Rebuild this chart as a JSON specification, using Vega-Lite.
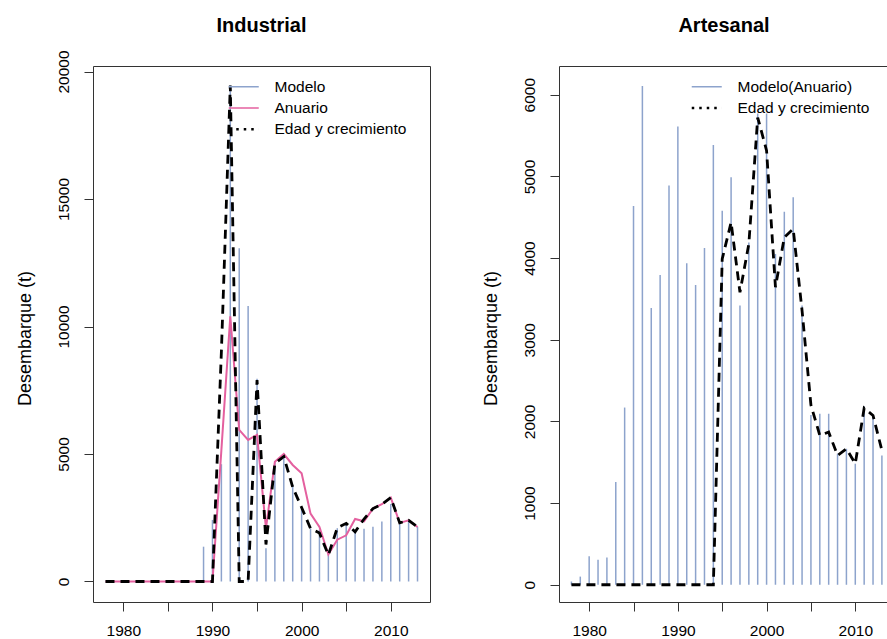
{
  "$schema": "https://vega.github.io/schema/vega-lite/v6.json",
  "background": "white",
  "padding": {"left": 15, "top": 15, "right": 0, "bottom": 0},
  "spacing": 50,
  "config": {
    "font": "Liberation Sans",
    "view": {"stroke": "#333333", "strokeWidth": 1},
    "axis": {"domain": false, "grid": false, "tickColor": "#333333", "tickSize": 9, "tickWidth": 1, "labelFontSize": 15.5, "labelColor": "#000000", "titleFontSize": 18, "titleFontWeight": "normal", "titleColor": "#000000", "labelFlush": false, "labelOverlap": false},
    "title": {"fontSize": 20, "fontWeight": "bold", "anchor": "middle", "color": "#000000", "baseline": "alphabetic"},
    "legend": {"orient": "none", "title": null, "labelFontSize": 15.5, "labelColor": "#000000", "symbolType": "M-1.58,0H1.58", "symbolSize": 361, "symbolStrokeWidth": 1.5, "labelOffset": 23, "rowPadding": 4.3, "padding": 0, "labelBaseline": "middle"}
  },
  "resolve": {"scale": {"color": "independent"}},
  "datasets": {
    "industrial": [
      {"year": 1989, "series": "Modelo", "value": 1365},
      {"year": 1990, "series": "Modelo", "value": 2415},
      {"year": 1991, "series": "Modelo", "value": 4600},
      {"year": 1992, "series": "Modelo", "value": 19450},
      {"year": 1993, "series": "Modelo", "value": 13070},
      {"year": 1994, "series": "Modelo", "value": 10800},
      {"year": 1995, "series": "Modelo", "value": 7950},
      {"year": 1996, "series": "Modelo", "value": 1300},
      {"year": 1997, "series": "Modelo", "value": 4700},
      {"year": 1998, "series": "Modelo", "value": 4900},
      {"year": 1999, "series": "Modelo", "value": 3780},
      {"year": 2000, "series": "Modelo", "value": 2926},
      {"year": 2001, "series": "Modelo", "value": 2073},
      {"year": 2002, "series": "Modelo", "value": 2034},
      {"year": 2003, "series": "Modelo", "value": 1220},
      {"year": 2004, "series": "Modelo", "value": 2090},
      {"year": 2005, "series": "Modelo", "value": 2220},
      {"year": 2006, "series": "Modelo", "value": 1980},
      {"year": 2007, "series": "Modelo", "value": 2070},
      {"year": 2008, "series": "Modelo", "value": 2150},
      {"year": 2009, "series": "Modelo", "value": 2350},
      {"year": 2010, "series": "Modelo", "value": 3040},
      {"year": 2011, "series": "Modelo", "value": 2300},
      {"year": 2012, "series": "Modelo", "value": 2380},
      {"year": 2013, "series": "Modelo", "value": 2150},
      {"year": 1978, "series": "Anuario", "value": 0},
      {"year": 1979, "series": "Anuario", "value": 0},
      {"year": 1980, "series": "Anuario", "value": 0},
      {"year": 1981, "series": "Anuario", "value": 0},
      {"year": 1982, "series": "Anuario", "value": 0},
      {"year": 1983, "series": "Anuario", "value": 0},
      {"year": 1984, "series": "Anuario", "value": 0},
      {"year": 1985, "series": "Anuario", "value": 0},
      {"year": 1986, "series": "Anuario", "value": 0},
      {"year": 1987, "series": "Anuario", "value": 0},
      {"year": 1988, "series": "Anuario", "value": 0},
      {"year": 1989, "series": "Anuario", "value": 0},
      {"year": 1990, "series": "Anuario", "value": 0},
      {"year": 1991, "series": "Anuario", "value": 5150},
      {"year": 1992, "series": "Anuario", "value": 10400},
      {"year": 1993, "series": "Anuario", "value": 5945},
      {"year": 1994, "series": "Anuario", "value": 5550},
      {"year": 1995, "series": "Anuario", "value": 5750},
      {"year": 1996, "series": "Anuario", "value": 2080},
      {"year": 1997, "series": "Anuario", "value": 4700},
      {"year": 1998, "series": "Anuario", "value": 5000},
      {"year": 1999, "series": "Anuario", "value": 4570},
      {"year": 2000, "series": "Anuario", "value": 4240},
      {"year": 2001, "series": "Anuario", "value": 2660},
      {"year": 2002, "series": "Anuario", "value": 2140},
      {"year": 2003, "series": "Anuario", "value": 1060},
      {"year": 2004, "series": "Anuario", "value": 1640},
      {"year": 2005, "series": "Anuario", "value": 1810},
      {"year": 2006, "series": "Anuario", "value": 2450},
      {"year": 2007, "series": "Anuario", "value": 2360},
      {"year": 2008, "series": "Anuario", "value": 2860},
      {"year": 2009, "series": "Anuario", "value": 3030},
      {"year": 2010, "series": "Anuario", "value": 3290},
      {"year": 2011, "series": "Anuario", "value": 2300},
      {"year": 2012, "series": "Anuario", "value": 2400},
      {"year": 2013, "series": "Anuario", "value": 2140},
      {"year": 1978, "series": "Edad y crecimiento", "value": 0},
      {"year": 1979, "series": "Edad y crecimiento", "value": 0},
      {"year": 1980, "series": "Edad y crecimiento", "value": 0},
      {"year": 1981, "series": "Edad y crecimiento", "value": 0},
      {"year": 1982, "series": "Edad y crecimiento", "value": 0},
      {"year": 1983, "series": "Edad y crecimiento", "value": 0},
      {"year": 1984, "series": "Edad y crecimiento", "value": 0},
      {"year": 1985, "series": "Edad y crecimiento", "value": 0},
      {"year": 1986, "series": "Edad y crecimiento", "value": 0},
      {"year": 1987, "series": "Edad y crecimiento", "value": 0},
      {"year": 1988, "series": "Edad y crecimiento", "value": 0},
      {"year": 1989, "series": "Edad y crecimiento", "value": 0},
      {"year": 1990, "series": "Edad y crecimiento", "value": 0},
      {"year": 1991, "series": "Edad y crecimiento", "value": 9000},
      {"year": 1992, "series": "Edad y crecimiento", "value": 19450},
      {"year": 1993, "series": "Edad y crecimiento", "value": 0},
      {"year": 1994, "series": "Edad y crecimiento", "value": 0},
      {"year": 1995, "series": "Edad y crecimiento", "value": 7900},
      {"year": 1996, "series": "Edad y crecimiento", "value": 1450},
      {"year": 1997, "series": "Edad y crecimiento", "value": 4630},
      {"year": 1998, "series": "Edad y crecimiento", "value": 4900},
      {"year": 1999, "series": "Edad y crecimiento", "value": 3700},
      {"year": 2000, "series": "Edad y crecimiento", "value": 2900},
      {"year": 2001, "series": "Edad y crecimiento", "value": 2080},
      {"year": 2002, "series": "Edad y crecimiento", "value": 1900},
      {"year": 2003, "series": "Edad y crecimiento", "value": 1040},
      {"year": 2004, "series": "Edad y crecimiento", "value": 2100},
      {"year": 2005, "series": "Edad y crecimiento", "value": 2280},
      {"year": 2006, "series": "Edad y crecimiento", "value": 1950},
      {"year": 2007, "series": "Edad y crecimiento", "value": 2450},
      {"year": 2008, "series": "Edad y crecimiento", "value": 2860},
      {"year": 2009, "series": "Edad y crecimiento", "value": 3030},
      {"year": 2010, "series": "Edad y crecimiento", "value": 3290},
      {"year": 2011, "series": "Edad y crecimiento", "value": 2300},
      {"year": 2012, "series": "Edad y crecimiento", "value": 2400},
      {"year": 2013, "series": "Edad y crecimiento", "value": 2140}
    ],
    "artesanal": [
      {"year": 1978, "series": "Modelo(Anuario)", "value": 40},
      {"year": 1979, "series": "Modelo(Anuario)", "value": 100},
      {"year": 1980, "series": "Modelo(Anuario)", "value": 350},
      {"year": 1981, "series": "Modelo(Anuario)", "value": 305},
      {"year": 1982, "series": "Modelo(Anuario)", "value": 335},
      {"year": 1983, "series": "Modelo(Anuario)", "value": 1257},
      {"year": 1984, "series": "Modelo(Anuario)", "value": 2170},
      {"year": 1985, "series": "Modelo(Anuario)", "value": 4639},
      {"year": 1986, "series": "Modelo(Anuario)", "value": 6108},
      {"year": 1987, "series": "Modelo(Anuario)", "value": 3390},
      {"year": 1988, "series": "Modelo(Anuario)", "value": 3794},
      {"year": 1989, "series": "Modelo(Anuario)", "value": 4890},
      {"year": 1990, "series": "Modelo(Anuario)", "value": 5610},
      {"year": 1991, "series": "Modelo(Anuario)", "value": 3937},
      {"year": 1992, "series": "Modelo(Anuario)", "value": 3672},
      {"year": 1993, "series": "Modelo(Anuario)", "value": 4122},
      {"year": 1994, "series": "Modelo(Anuario)", "value": 5386},
      {"year": 1995, "series": "Modelo(Anuario)", "value": 4581},
      {"year": 1996, "series": "Modelo(Anuario)", "value": 4989},
      {"year": 1997, "series": "Modelo(Anuario)", "value": 3419},
      {"year": 1998, "series": "Modelo(Anuario)", "value": 4190},
      {"year": 1999, "series": "Modelo(Anuario)", "value": 5770},
      {"year": 2000, "series": "Modelo(Anuario)", "value": 5770},
      {"year": 2001, "series": "Modelo(Anuario)", "value": 4050},
      {"year": 2002, "series": "Modelo(Anuario)", "value": 4567},
      {"year": 2003, "series": "Modelo(Anuario)", "value": 4744},
      {"year": 2004, "series": "Modelo(Anuario)", "value": 3419},
      {"year": 2005, "series": "Modelo(Anuario)", "value": 2080},
      {"year": 2006, "series": "Modelo(Anuario)", "value": 2094},
      {"year": 2007, "series": "Modelo(Anuario)", "value": 2094},
      {"year": 2008, "series": "Modelo(Anuario)", "value": 1604},
      {"year": 2009, "series": "Modelo(Anuario)", "value": 1665},
      {"year": 2010, "series": "Modelo(Anuario)", "value": 1482},
      {"year": 2011, "series": "Modelo(Anuario)", "value": 2184},
      {"year": 2012, "series": "Modelo(Anuario)", "value": 2073},
      {"year": 2013, "series": "Modelo(Anuario)", "value": 1584},
      {"year": 1978, "series": "Edad y crecimiento", "value": 0},
      {"year": 1979, "series": "Edad y crecimiento", "value": 0},
      {"year": 1980, "series": "Edad y crecimiento", "value": 0},
      {"year": 1981, "series": "Edad y crecimiento", "value": 0},
      {"year": 1982, "series": "Edad y crecimiento", "value": 0},
      {"year": 1983, "series": "Edad y crecimiento", "value": 0},
      {"year": 1984, "series": "Edad y crecimiento", "value": 0},
      {"year": 1985, "series": "Edad y crecimiento", "value": 0},
      {"year": 1986, "series": "Edad y crecimiento", "value": 0},
      {"year": 1987, "series": "Edad y crecimiento", "value": 0},
      {"year": 1988, "series": "Edad y crecimiento", "value": 0},
      {"year": 1989, "series": "Edad y crecimiento", "value": 0},
      {"year": 1990, "series": "Edad y crecimiento", "value": 0},
      {"year": 1991, "series": "Edad y crecimiento", "value": 0},
      {"year": 1992, "series": "Edad y crecimiento", "value": 0},
      {"year": 1993, "series": "Edad y crecimiento", "value": 0},
      {"year": 1994, "series": "Edad y crecimiento", "value": 0},
      {"year": 1995, "series": "Edad y crecimiento", "value": 3990},
      {"year": 1996, "series": "Edad y crecimiento", "value": 4438},
      {"year": 1997, "series": "Edad y crecimiento", "value": 3581},
      {"year": 1998, "series": "Edad y crecimiento", "value": 4174},
      {"year": 1999, "series": "Edad y crecimiento", "value": 5720},
      {"year": 2000, "series": "Edad y crecimiento", "value": 5316},
      {"year": 2001, "series": "Edad y crecimiento", "value": 3643},
      {"year": 2002, "series": "Edad y crecimiento", "value": 4255},
      {"year": 2003, "series": "Edad y crecimiento", "value": 4357},
      {"year": 2004, "series": "Edad y crecimiento", "value": 3357},
      {"year": 2005, "series": "Edad y crecimiento", "value": 2200},
      {"year": 2006, "series": "Edad y crecimiento", "value": 1829},
      {"year": 2007, "series": "Edad y crecimiento", "value": 1869},
      {"year": 2008, "series": "Edad y crecimiento", "value": 1584},
      {"year": 2009, "series": "Edad y crecimiento", "value": 1665},
      {"year": 2010, "series": "Edad y crecimiento", "value": 1482},
      {"year": 2011, "series": "Edad y crecimiento", "value": 2163},
      {"year": 2012, "series": "Edad y crecimiento", "value": 2073},
      {"year": 2013, "series": "Edad y crecimiento", "value": 1645}
    ]
  },
  "hconcat": [
    {
      "width": 337,
      "height": 536,
      "title": {"text": "Industrial", "offset": 14},
      "data": {"name": "industrial"},
      "encoding": {
        "x": {"field": "year", "type": "quantitative", "scale": {"domain": [1976.6, 2014.4], "nice": false, "zero": false},
          "axis": {"values": [1980, 1985, 1990, 1995, 2000, 2005, 2010], "format": "d", "labelExpr": "datum.value % 10 === 0 ? datum.label : ''", "title": null, "labelBaseline": "top", "labelPadding": 12}},
        "y": {"field": "value", "type": "quantitative", "scale": {"domain": [-804, 20216], "nice": false, "zero": false},
          "axis": {"values": [0, 5000, 10000, 15000, 20000], "format": "d", "labelAngle": -90, "labelAlign": "center", "labelBaseline": "alphabetic", "labelPadding": 16, "title": "Desembarque (t)", "titleAngle": -90, "titleBaseline": "alphabetic", "titleAlign": "center", "titleX": -63, "titleY": 272}},
        "color": {"field": "series", "type": "nominal",
          "scale": {"domain": ["Modelo", "Anuario", "Edad y crecimiento"], "range": ["#8DA3CC", "#E4609F", "#000000"]},
          "legend": {"legendX": 143, "legendY": 13,
            "encode": {"symbols": {"update": {"strokeDash": {"signal": "datum.value === 'Edad y crecimiento' ? [2.5, 5] : [1, 0]"}, "strokeWidth": {"signal": "datum.value === 'Edad y crecimiento' ? 2.5 : 1.5"}}}}}}
      },
      "layer": [
        {"transform": [{"filter": "datum.series === 'Modelo'"}], "mark": {"type": "rule", "strokeWidth": 1.5}, "encoding": {"y2": {"datum": 0}}},
        {"transform": [{"filter": "datum.series === 'Anuario'"}], "mark": {"type": "line", "strokeWidth": 2}},
        {"transform": [{"filter": "datum.series === 'Edad y crecimiento'"}], "mark": {"type": "line", "strokeWidth": 2.8, "strokeDash": [9, 6]}}
      ]
    },
    {
      "width": 330,
      "height": 536,
      "title": {"text": "Artesanal", "offset": 30},
      "data": {"name": "artesanal"},
      "encoding": {
        "x": {"field": "year", "type": "quantitative", "scale": {"domain": [1976.6, 2013.8], "nice": false, "zero": false},
          "axis": {"values": [1980, 1985, 1990, 1995, 2000, 2005, 2010], "format": "d", "labelExpr": "datum.value % 10 === 0 ? datum.label : ''", "title": null, "labelBaseline": "top", "labelPadding": 12}},
        "y": {"field": "value", "type": "quantitative", "scale": {"domain": [-211, 6352], "nice": false, "zero": false},
          "axis": {"values": [0, 1000, 2000, 3000, 4000, 5000, 6000], "format": "d", "labelAngle": -90, "labelAlign": "center", "labelBaseline": "alphabetic", "labelPadding": 16, "title": "Desembarque (t)", "titleAngle": -90, "titleBaseline": "alphabetic", "titleAlign": "center", "titleX": -63, "titleY": 272}},
        "color": {"field": "series", "type": "nominal",
          "scale": {"domain": ["Modelo(Anuario)", "Edad y crecimiento"], "range": ["#8DA3CC", "#000000"]},
          "legend": {"legendX": 140, "legendY": 13,
            "encode": {"symbols": {"update": {"strokeDash": {"signal": "datum.value === 'Edad y crecimiento' ? [2.5, 5] : [1, 0]"}, "strokeWidth": {"signal": "datum.value === 'Edad y crecimiento' ? 2.5 : 1.5"}}}}}}
      },
      "layer": [
        {"transform": [{"filter": "datum.series === 'Modelo(Anuario)'"}], "mark": {"type": "rule", "strokeWidth": 1.5}, "encoding": {"y2": {"datum": 0}}},
        {"transform": [{"filter": "datum.series === 'Edad y crecimiento'"}], "mark": {"type": "line", "strokeWidth": 2.8, "strokeDash": [9, 6]}}
      ]
    }
  ]
}
